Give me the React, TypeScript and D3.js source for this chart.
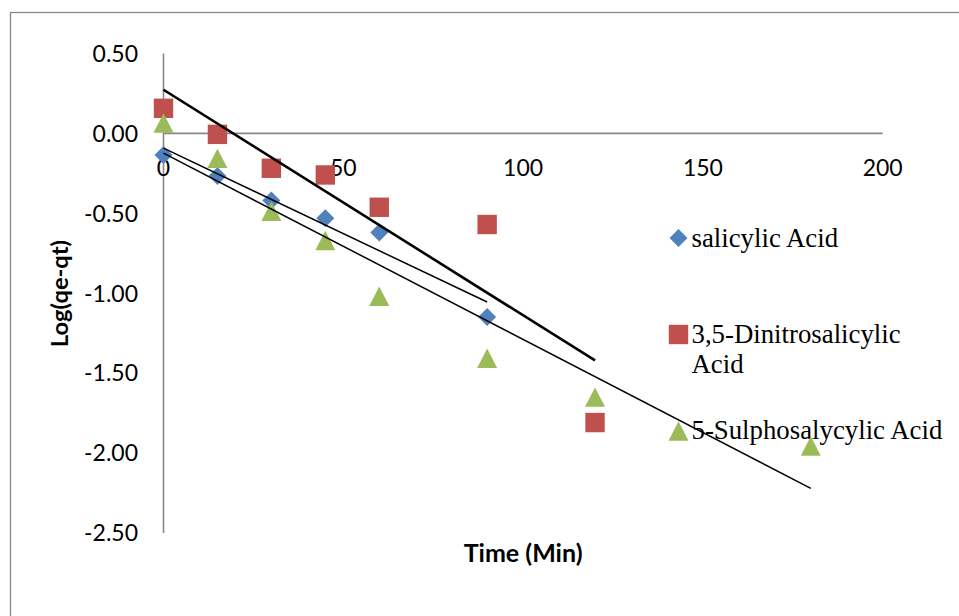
import React from "react";
import * as d3 from "d3";

// ---- data ----
const seriesNames = ["salicylic Acid", "3,5-Dinitrosalicylic Acid", "5-Sulphosalycylic Acid"];
const salicylicTime = [0, 15, 30, 45, 60, 90];
const salicylicLog = [-0.135, -0.266, -0.42, -0.53, -0.62, -1.148];
const dinitroTime = [0, 15, 30, 45, 60, 90, 120];
const dinitroLog = [0.157, -0.006, -0.218, -0.26, -0.462, -0.57, -1.809];
const sulphoTime = [0, 15, 30, 45, 60, 90, 120, 180];
const sulphoLog = [0.065, -0.156, -0.487, -0.67, -1.019, -1.407, -1.65, -1.956];
const xTicks = [0, 50, 100, 150, 200];
const yTicks = [0.5, 0, -0.5, -1, -1.5, -2, -2.5];

const W = 959;
const H = 616;
const x = d3.scaleLinear().domain([0, 200]).range([163.5, 882.7]);
const y = d3.scaleLinear().domain([-2.5, 0.5]).range([533, 53.5]);

const SANS = "Lato, 'Open Sans', sans-serif";
const SERIF = "'Liberation Serif', 'Times New Roman', serif";

type Shape = "diamond" | "square" | "triangle";

const fmtY = (v: number) => d3.format(".2f")(v).replace("\u2212", "-");

function markerPath(shape: Shape): string {
  if (shape === "diamond") {
    const r = 9;
    return `M0,${-r}L${r},0L0,${r}L${-r},0Z`;
  }
  if (shape === "square") {
    const s = 9.7;
    return `M${-s},${-s}H${s}V${s}H${-s}Z`;
  }
  const w = 10, h = 9.7;
  return `M0,${-h}L${w},${h}L${-w},${h}Z`;
}

function regression(ts: number[], vs: number[]) {
  const mt = d3.mean(ts) as number;
  const mv = d3.mean(vs) as number;
  let num = 0, den = 0;
  ts.forEach((t, i) => {
    num += (t - mt) * (vs[i] - mv);
    den += (t - mt) * (t - mt);
  });
  const slope = num / den;
  const icpt = mv - slope * mt;
  const t0 = d3.min(ts) as number;
  const t1 = d3.max(ts) as number;
  return [
    [t0, icpt + slope * t0],
    [t1, icpt + slope * t1],
  ] as [number, number][];
}

const series = [
  { name: seriesNames[0], t: salicylicTime, v: salicylicLog, color: "#4F81BD", shape: "diamond" as Shape, trendW: 1.5 },
  { name: seriesNames[1], t: dinitroTime, v: dinitroLog, color: "#C0504D", shape: "square" as Shape, trendW: 2.6 },
  { name: seriesNames[2], t: sulphoTime, v: sulphoLog, color: "#9BBB59", shape: "triangle" as Shape, trendW: 1.5 },
];

const line = d3
  .line<[number, number]>()
  .x((d) => x(d[0]))
  .y((d) => y(d[1]));

export default function App() {
  const legendMarkX = 678.5;
  const legendTextX = 691.5;
  return (
    <svg
      width={W}
      height={H}
      style={{ position: "absolute", left: 0, top: 0, background: "#fff" }}
    >
      <rect x={0} y={0} width={W} height={H} fill="#fff" />
      <rect x={10.5} y={12.5} width={1000} height={700} fill="none" stroke="#8a8a8a" strokeWidth={1.3} />

      {/* axes */}
      <line x1={x(0)} x2={x(200)} y1={y(0)} y2={y(0)} stroke="#878787" strokeWidth={1.6} />
      <line x1={x(0)} x2={x(0)} y1={y(0.5)} y2={y(-2.5)} stroke="#878787" strokeWidth={1.6} />

      {/* y tick labels */}
      {yTicks.map((v) => (
        <text key={v} x={138} y={y(v) + 8.3} textAnchor="end" fontFamily={SANS} fontSize={23} fill="#000">
          {fmtY(v)}
        </text>
      ))}
      {/* x tick labels */}
      {xTicks.map((t) => (
        <text key={t} x={x(t)} y={176} textAnchor="middle" fontFamily={SANS} fontSize={23} fill="#000">
          {t}
        </text>
      ))}

      {/* axis titles */}
      <text
        transform={`translate(68,293.5) rotate(-90)`}
        textAnchor="middle"
        fontFamily={SANS}
        fontWeight="bold"
        fontSize={23.7}
        fill="#000"
      >
        Log(qe-qt)
      </text>
      <text x={x(100)} y={561.5} textAnchor="middle" fontFamily={SANS} fontWeight="bold" fontSize={25} fill="#000">
        Time (Min)
      </text>

      {/* legend */}
      <g fontFamily={SERIF} fontSize={26.8} fill="#000">
        <path d={markerPath("diamond")} transform={`translate(${legendMarkX},238)`} fill={series[0].color} />
        <text x={legendTextX} y={246.5}>salicylic Acid</text>
        <path d={markerPath("square")} transform={`translate(${legendMarkX},334.5)`} fill={series[1].color} />
        <text x={legendTextX} y={342.5}>3,5-Dinitrosalicylic</text>
        <text x={legendTextX} y={373.3}>Acid</text>
        <path d={markerPath("triangle")} transform={`translate(${legendMarkX},431)`} fill={series[2].color} />
        <text x={legendTextX} y={438.5}>5-Sulphosalycylic Acid</text>
      </g>

      {/* markers */}
      {series.map((s) => (
        <g key={s.name} fill={s.color}>
          {s.t.map((t, i) => (
            <path key={i} d={markerPath(s.shape)} transform={`translate(${x(t)},${y(s.v[i])})`} />
          ))}
        </g>
      ))}

      {/* linear trendlines */}
      {series.map((s) => (
        <path
          key={"tr" + s.name}
          d={line(regression(s.t, s.v)) || ""}
          fill="none"
          stroke="#000"
          strokeWidth={s.trendW}
        />
      ))}
    </svg>
  );
}
